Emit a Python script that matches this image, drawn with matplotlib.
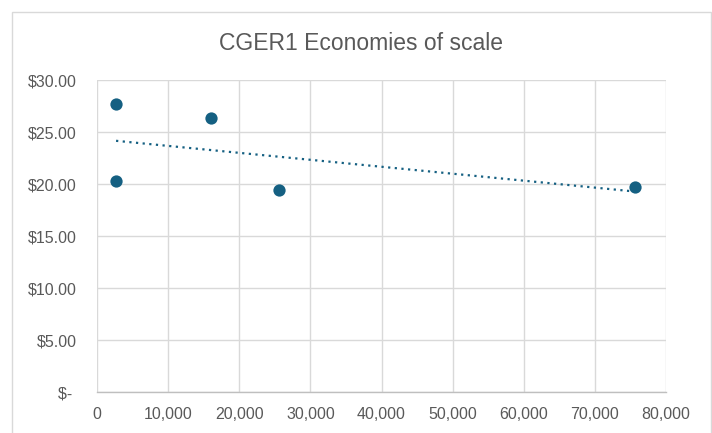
import matplotlib
matplotlib.use("Agg")
import matplotlib.pyplot as plt
from matplotlib.patches import Rectangle
from matplotlib.ticker import FuncFormatter
import numpy as np

plt.rcParams['font.family'] = ['Liberation Sans Narrow', 'Liberation Sans', 'DejaVu Sans']

# Data
volume = [2680, 2680, 16000, 25550, 75580]
cost = [27.70, 20.35, 26.34, 19.49, 19.74]
title = "CGER1 Economies of scale"
x_ticks = [0, 10000, 20000, 30000, 40000, 50000, 60000, 70000, 80000]
y_ticks = [0, 5, 10, 15, 20, 25, 30]

W, H = 712, 433
fig = plt.figure(figsize=(W / 100, H / 100), dpi=100)
fig.patch.set_facecolor('white')

# chart frame
fig.patches.append(Rectangle((12 / W, -0.1), (W - 13) / W, 1 - 12 / H + 0.1,
                             transform=fig.transFigure, fill=False,
                             edgecolor='#d9d9d9', linewidth=1.0))

ax = fig.add_axes([97 / W, (H - 392) / H, (666 - 97) / W, (392 - 80.4) / H])
accent = '#156082'
txt = '#595959'

ax.scatter(volume, cost, s=78, color=accent, zorder=3, linewidths=0)

# linear trendline
m, b = np.polyfit(volume, cost, 1)
xs = np.array([min(volume), max(volume)])
ax.plot(xs, m * xs + b, color=accent, linewidth=1.6, linestyle=(0, (1, 2)), zorder=2)

ax.set_xlim(0, 80000)
ax.set_ylim(0, 30)
ax.set_xticks(x_ticks)
ax.set_yticks(y_ticks)
ax.xaxis.set_major_formatter(FuncFormatter(lambda v, p: f"{int(v):,}"))
ax.yaxis.set_major_formatter(FuncFormatter(lambda v, p: "$- " if v == 0 else f"${v:.2f}"))
ax.tick_params(axis='both', length=0, labelsize=11.5, colors=txt)
ax.tick_params(axis='x', pad=11)
ax.tick_params(axis='y', pad=14.5)
ax.grid(True, color='#d9d9d9', linewidth=1.0)
ax.set_axisbelow(True)
for s in ['top', 'right', 'left']:
    ax.spines[s].set_visible(False)
ax.spines['bottom'].set_color('#bfbfbf')
ax.spines['bottom'].set_linewidth(1.0)

fig.text(361 / W, 1 - 43 / H, title, ha='center', va='center', fontsize=16.5, color=txt)

fig.savefig('out.png', dpi=100)
